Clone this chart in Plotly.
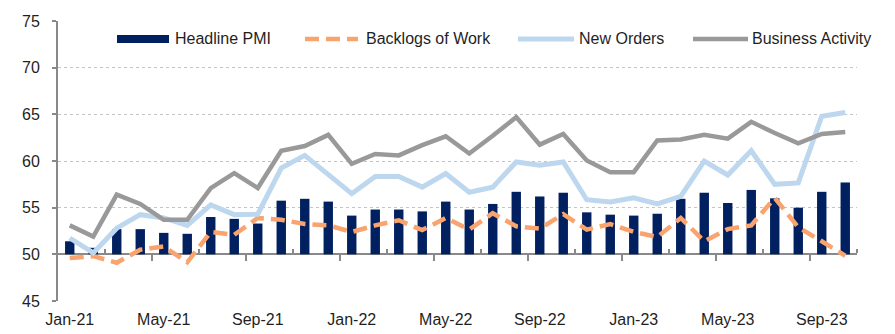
import plotly.graph_objects as go

# ---------------- data ----------------
months = ["Jan-21", "Feb-21", "Mar-21", "Apr-21", "May-21", "Jun-21", "Jul-21", "Aug-21",
          "Sep-21", "Oct-21", "Nov-21", "Dec-21", "Jan-22", "Feb-22", "Mar-22", "Apr-22",
          "May-22", "Jun-22", "Jul-22", "Aug-22", "Sep-22", "Oct-22", "Nov-22", "Dec-22",
          "Jan-23", "Feb-23", "Mar-23", "Apr-23", "May-23", "Jun-23", "Jul-23", "Aug-23",
          "Sep-23", "Oct-23"]

headline_pmi = [51.4, 50.7, 52.7, 52.7, 52.3, 52.2, 54.0, 53.8, 53.3, 55.75,
                55.95, 55.65, 54.15, 54.8, 54.8, 54.6, 55.65, 54.8, 55.4, 56.7,
                56.2, 56.6, 54.5, 54.25, 54.15, 54.35, 55.95, 56.6, 55.5, 56.9,
                56.0, 55.0, 56.7, 57.7]

backlogs_of_work = [49.6, 49.8, 49.1, 50.5, 50.85, 49.15, 52.4, 52.1, 53.9, 53.7,
                    53.25, 53.1, 52.4, 53.1, 53.65, 52.6, 53.9, 52.65, 54.4, 53.0,
                    52.75, 54.3, 52.65, 53.25, 52.4, 51.85, 53.9, 51.4, 52.7, 53.1,
                    56.05, 52.9, 51.4, 49.85]

new_orders = [51.75, 50.15, 52.8, 54.25, 53.9, 53.1, 55.3, 54.25, 54.3, 59.25,
              60.6, 58.5, 56.5, 58.35, 58.35, 57.2, 58.65, 56.65, 57.2, 59.9,
              59.55, 59.9, 55.85, 55.6, 56.05, 55.4, 56.2, 60.0, 58.5, 61.1,
              57.5, 57.65, 64.8, 65.2]

business_activity = [53.1, 51.9, 56.4, 55.4, 53.7, 53.7, 57.1, 58.7, 57.1, 61.1,
                     61.6, 62.8, 59.7, 60.75, 60.6, 61.7, 62.65, 60.8, 62.7, 64.7,
                     61.75, 62.9, 60.05, 58.8, 58.8, 62.2, 62.3, 62.8, 62.4, 64.2,
                     63.0, 61.9, 62.9, 63.1]

tick_labels = ["Jan-21", "May-21", "Sep-21", "Jan-22", "May-22", "Sep-22",
               "Jan-23", "May-23", "Sep-23"]
legend_names = ["Headline PMI", "Backlogs of Work", "New Orders", "Business Activity"]

BASE = 50          # the category axis crosses the value axis here
Y_MIN, Y_MAX = 45, 75

# ---------------- styles ----------------
NAVY = "#002060"
ORANGE = "#F9A36E"
LIGHT_BLUE = "#BDD7EE"
GRAY = "#999999"
AXIS = "#898989"
GRID = "#C4C4C4"
TEXT = "#1F1F1F"
FONT = "Liberation Sans, Arial, sans-serif"
ORANGE_DASH = "14px,7px"

W, H = 895, 334
ML, MR, MT, MB = 58, 38, 21, 33

x = list(range(len(months)))
label_pos = [months.index(t) for t in tick_labels]
major_bounds = [p - 0.5 for p in label_pos[1:]]
minor_bounds = [p + 1.5 for p in label_pos]
x_range = [-0.5, len(months) - 0.5]

fig = go.Figure()

fig.add_trace(go.Bar(
    x=x, y=[v - BASE for v in headline_pmi], base=BASE,
    name=legend_names[0], marker=dict(color=NAVY, line=dict(width=0)),
    width=0.4, customdata=list(zip(months, headline_pmi)),
    hovertemplate="%{customdata[0]}: %{customdata[1]}<extra>Headline PMI</extra>",
))
fig.add_trace(go.Scatter(
    x=x, y=backlogs_of_work, mode="lines", name=legend_names[1],
    line=dict(color=ORANGE, width=4.5, dash=ORANGE_DASH), customdata=months,
    hovertemplate="%{customdata}: %{y}<extra>Backlogs of Work</extra>",
))
fig.add_trace(go.Scatter(
    x=x, y=new_orders, mode="lines", name=legend_names[2],
    line=dict(color=LIGHT_BLUE, width=5), customdata=months,
    hovertemplate="%{customdata}: %{y}<extra>New Orders</extra>",
))
fig.add_trace(go.Scatter(
    x=x, y=business_activity, mode="lines", name=legend_names[3],
    line=dict(color=GRAY, width=4.5), customdata=months,
    hovertemplate="%{customdata}: %{y}<extra>Business Activity</extra>",
))
# carrier for the crossing category axis line
fig.add_trace(go.Scatter(x=[x_range[0]], y=[BASE], xaxis="x2", mode="markers",
                         marker=dict(opacity=0), hoverinfo="skip", showlegend=False))

fig.update_layout(
    template="none",
    width=W, height=H,
    margin=dict(l=ML, r=MR, t=MT, b=MB, pad=0, autoexpand=False),
    paper_bgcolor="white", plot_bgcolor="white",
    showlegend=False,
    font=dict(family=FONT, size=16, color=TEXT),
    bargap=0.6,
    xaxis=dict(
        range=x_range, tickmode="array", tickvals=label_pos, ticktext=tick_labels,
        ticks="", showline=False, showgrid=False, zeroline=False, automargin=False,
        ticklabelstandoff=7, tickfont=dict(family=FONT, size=16, color=TEXT),
    ),
    xaxis2=dict(
        overlaying="x", anchor="free", position=(BASE - Y_MIN) / (Y_MAX - Y_MIN),
        range=x_range, showticklabels=False, showgrid=False, zeroline=False,
        automargin=False,
        showline=True, linecolor=AXIS, linewidth=2, layer="below traces",
        tickmode="array", tickvals=major_bounds, ticks="outside",
        ticklen=6, tickwidth=2, tickcolor=AXIS,
        minor=dict(tickmode="array", tickvals=minor_bounds, ticks="inside",
                   ticklen=4, tickwidth=2, tickcolor=AXIS, showgrid=False),
    ),
    yaxis=dict(
        range=[Y_MIN, Y_MAX], tick0=Y_MIN, dtick=5, automargin=False,
        showline=True, linecolor=AXIS, linewidth=2,
        ticks="outside", ticklen=4, tickwidth=1.5, tickcolor=AXIS,
        showgrid=True, gridcolor=GRID, gridwidth=1, griddash="dot",
        zeroline=False, ticklabelstandoff=9,
        tickfont=dict(family=FONT, size=16, color=TEXT),
    ),
)

# ---------------- legend (Excel-style long swatches) ----------------
PW = W - ML - MR
PH = H - MT - MB


def px_x(p):
    return (p - ML) / PW


def px_y(p):
    return (H - MB - p) / PH


LEG_Y = 39
swatches = [
    dict(kind="rect", x0=117, x1=169, color=NAVY, text_x=174),
    dict(kind="line", x0=305, x1=358, color=ORANGE, width=4.5, dash=ORANGE_DASH, text_x=365),
    dict(kind="line", x0=518, x1=574, color=LIGHT_BLUE, width=5, dash="solid", text_x=578),
    dict(kind="line", x0=693, x1=748, color=GRAY, width=4.5, dash="solid", text_x=751),
]
for name, s in zip(legend_names, swatches):
    if s["kind"] == "rect":
        fig.add_shape(type="rect", xref="paper", yref="paper",
                      x0=px_x(s["x0"]), x1=px_x(s["x1"]),
                      y0=px_y(LEG_Y + 4), y1=px_y(LEG_Y - 4),
                      fillcolor=s["color"], line=dict(width=0))
    else:
        fig.add_shape(type="line", xref="paper", yref="paper",
                      x0=px_x(s["x0"]), x1=px_x(s["x1"]),
                      y0=px_y(LEG_Y), y1=px_y(LEG_Y),
                      line=dict(color=s["color"], width=s["width"], dash=s["dash"]))
    fig.add_annotation(text=name, xref="paper", yref="paper",
                       x=px_x(s["text_x"]), y=px_y(LEG_Y - 0.5),
                       xanchor="left", yanchor="middle", showarrow=False,
                       font=dict(family=FONT, size=16, color=TEXT), borderpad=0)

fig.write_html("out.html")
